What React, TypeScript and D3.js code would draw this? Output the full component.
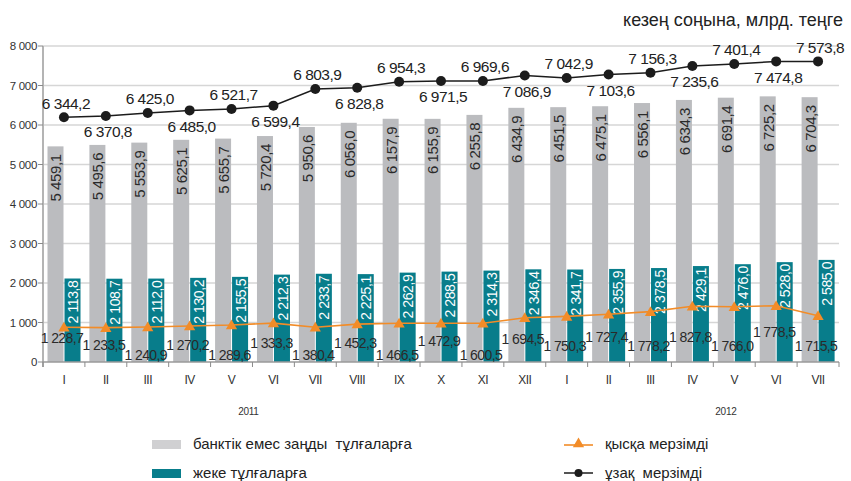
import React from 'react';
import * as d3 from 'd3';

// months of 2011 (I–XII) and 2012 (I–VII)
const months = ['I', 'II', 'III', 'IV', 'V', 'VI', 'VII', 'VIII', 'IX', 'X', 'XI', 'XII',
  'I', 'II', 'III', 'IV', 'V', 'VI', 'VII'];
const years = ['2011', '2012'];

// bars
const legalEntities = [5459.1, 5495.6, 5553.9, 5625.1, 5655.7, 5720.4, 5950.6, 6056.0, 6157.9, 6155.9,
  6255.8, 6434.9, 6451.5, 6475.1, 6556.1, 6634.3, 6691.4, 6725.2, 6704.3];
const individuals = [2113.8, 2108.7, 2112.0, 2130.2, 2155.5, 2212.3, 2233.7, 2225.1, 2262.9, 2288.5,
  2314.3, 2346.4, 2341.7, 2355.9, 2378.5, 2429.1, 2476.0, 2528.0, 2585.0];

// lines: where the points sit on the chart vs. the numbers printed next to them
const shortTermPlotted = [880, 870, 885, 910, 935, 985, 880, 960, 980, 980, 980, 1120, 1155, 1210,
  1275, 1410, 1400, 1425, 1170];
const shortTermLabels = [1228.7, 1233.5, 1240.9, 1270.2, 1289.6, 1333.3, 1380.4, 1452.3, 1466.5, 1472.9,
  1600.5, 1694.5, 1750.3, 1727.4, 1778.2, 1827.8, 1766.0, 1778.5, 1715.5];
const longTermPlotted = [6195, 6230, 6305, 6370, 6405, 6490, 6910, 6945, 7095, 7115, 7115, 7255, 7190,
  7280, 7325, 7495, 7545, 7610, 7610];
const longTermLabels = [6344.2, 6370.8, 6425.0, 6485.0, 6521.7, 6599.4, 6803.9, 6828.8, 6954.3, 6971.5,
  6969.6, 7086.9, 7042.9, 7103.6, 7156.3, 7235.6, 7401.4, 7474.8, 7573.8];

const yTicks = [0, 1000, 2000, 3000, 4000, 5000, 6000, 7000, 8000];

// the original has doubled spaces in two names
const seriesNames = ['банктік емес заңды\u00a0 тұлғаларға', 'жеке тұлғаларға', 'қысқа мерзімді', 'ұзақ\u00a0 мерзімді'];
const unitTitle = 'кезең соңына, млрд. теңге';

const GRAY = '#bbbcbf';
const TEAL = '#087d8b';
const ORANGE = '#f28c28';
const DARK = '#1c1c1c';
const FONT = '"Liberation Sans", Arial, sans-serif';

const locale = d3.formatLocale({ decimal: ',', thousands: ' ', grouping: [3], currency: ['', ''] });
const fmt1 = locale.format(',.1f');
const fmt0 = locale.format(',.0f');

// label nudges for the short-term numbers (hand placed in the original)
const shortLabelDy = [11, 17, 28, 19, 30, 20, 28, 19, 32, 18, 32, 21, 30, 23, 34, 31, 39, 26, 30];
const yearAt = [4.9, 16.3];

export default function App() {
  const width = 851;
  const height = 481;
  const left = 43;
  const right = 839;

  const idx = months.map((_, i) => i);
  const x = d3.scaleBand<number>().domain(idx).range([left, right]).padding(0);
  const step = x.step();
  const cx = (i: number) => (x(i) as number) + step / 2;
  const y = d3.scaleLinear().domain([0, 8000]).range([362, 46]);

  const lineGen = d3.line<number>().x((_, i) => cx(i)).y(d => y(d));

  const triangle = d3.symbol().type(d3.symbolTriangle).size(55)();

  return (
    <svg width={width} height={height} style={{ position: 'absolute', left: 0, top: 0, background: '#fff' }}
      fontFamily={FONT}>
      <rect width={width} height={height} fill="#fff" />

      {/* title */}
      <text x={843} y={26} textAnchor="end" fontSize={18} fill="#222">{unitTitle}</text>

      {/* gridlines */}
      {yTicks.filter(t => t > 0).map(t => (
        <line key={t} x1={left} x2={right} y1={y(t)} y2={y(t)} stroke="#d6d6d6" strokeWidth={1.5} />
      ))}

      {/* y axis */}
      <line x1={left} x2={left} y1={y(8000)} y2={y(0) + 5} stroke="#b4b4b4" strokeWidth={2} />
      {yTicks.map(t => (
        <g key={t}>
          <line x1={left - 5} x2={left} y1={y(t)} y2={y(t)} stroke="#8a8a8a" strokeWidth={1} />
          <text x={left - 6} y={y(t)} dy="0.35em" textAnchor="end" fontSize={11.5} fill="#333"
            letterSpacing={-0.3}>{t === 0 ? '0' : fmt0(t)}</text>
        </g>
      ))}

      {/* bars */}
      {legalEntities.map((v, i) => (
        <rect key={'g' + i} x={(x(i) as number) + 4.5} width={16} y={y(v)} height={y(0) - y(v)} fill={GRAY} />
      ))}
      {individuals.map((v, i) => (
        <rect key={'t' + i} x={(x(i) as number) + 21.5} width={16} y={y(v)} height={y(0) - y(v)} fill={TEAL} />
      ))}

      {/* bar labels */}
      {legalEntities.map((v, i) => (
        <text key={'gl' + i} transform={`translate(${(x(i) as number) + 13},${y(v) + 8}) rotate(-90)`}
          textAnchor="end" dy="0.36em" fontSize={15} fill="#2a2a2a" letterSpacing={-0.4}>{fmt1(v)}</text>
      ))}
      {individuals.map((v, i) => (
        <text key={'tl' + i} transform={`translate(${(x(i) as number) + 30},${y(v) + 2}) rotate(-90)`}
          textAnchor="end" dy="0.36em" fontSize={14} fill="#fff" letterSpacing={-0.4}>{fmt1(v)}</text>
      ))}

      {/* x axis */}
      <line x1={left} x2={right} y1={y(0)} y2={y(0)} stroke="#9a9a9a" strokeWidth={1.5} />
      {idx.concat([months.length]).map(i => {
        const xx = i < months.length ? (x(i) as number) : right;
        return <line key={'xt' + i} x1={xx} x2={xx} y1={y(0)} y2={y(0) + 5} stroke="#8a8a8a" strokeWidth={1} />;
      })}
      {months.map((m, i) => (
        <text key={'xl' + i} x={cx(i)} y={384} textAnchor="middle" fontSize={12} fill="#333"
          letterSpacing={-0.5}>{m}</text>
      ))}
      {years.map((yr, k) => (
        <text key={yr} x={left + step * yearAt[k]} y={415} textAnchor="middle" fontSize={10} fill="#333"
          letterSpacing={-0.3}>{yr}</text>
      ))}

      {/* short-term line */}
      <path d={lineGen(shortTermPlotted) || ''} fill="none" stroke={ORANGE} strokeWidth={1.6} />
      {shortTermPlotted.map((v, i) => (
        <path key={'st' + i} d={triangle || ''} transform={`translate(${cx(i)},${y(v) + 1})`} fill={ORANGE} />
      ))}
      {shortTermLabels.map((v, i) => (
        <text key={'stl' + i} x={cx(i) - 2} y={y(shortTermPlotted[i]) + shortLabelDy[i]} dy="0.35em"
          textAnchor="middle" fontSize={14} fill="#2a2a2a" letterSpacing={-0.6}>{fmt1(v)}</text>
      ))}

      {/* long-term line */}
      <path d={lineGen(longTermPlotted) || ''} fill="none" stroke={DARK} strokeWidth={1.5} />
      {longTermPlotted.map((v, i) => (
        <circle key={'lt' + i} cx={cx(i)} cy={y(v)} r={5} fill={DARK} />
      ))}
      {longTermLabels.map((v, i) => (
        <text key={'ltl' + i} x={cx(i) + 2} y={y(longTermPlotted[i]) + (i % 2 === 0 ? -14 : 16)} dy="0.35em"
          textAnchor="middle" fontSize={15.5} fill="#222" letterSpacing={-0.5}>{fmt1(v)}</text>
      ))}

      {/* legend */}
      <g fontSize={15} fill="#222">
        <rect x={152} y={440} width={29} height={9} fill="#d0d0d2" />
        <text x={193} y={444} dy="0.35em">{seriesNames[0]}</text>
        <rect x={152} y={469} width={29} height={9} fill={TEAL} />
        <text x={193} y={472.5} dy="0.35em">{seriesNames[1]}</text>

        <line x1={564} x2={593} y1={445} y2={445} stroke={ORANGE} strokeWidth={1.6} />
        <path d={triangle || ''} transform={`translate(578.5,444)`} fill={ORANGE} />
        <text x={605} y={444} dy="0.35em">{seriesNames[2]}</text>
        <line x1={564} x2={593} y1={473} y2={473} stroke={DARK} strokeWidth={1.5} />
        <circle cx={578.5} cy={473} r={4} fill={DARK} />
        <text x={605} y={472.5} dy="0.35em">{seriesNames[3]}</text>
      </g>
    </svg>
  );
}
